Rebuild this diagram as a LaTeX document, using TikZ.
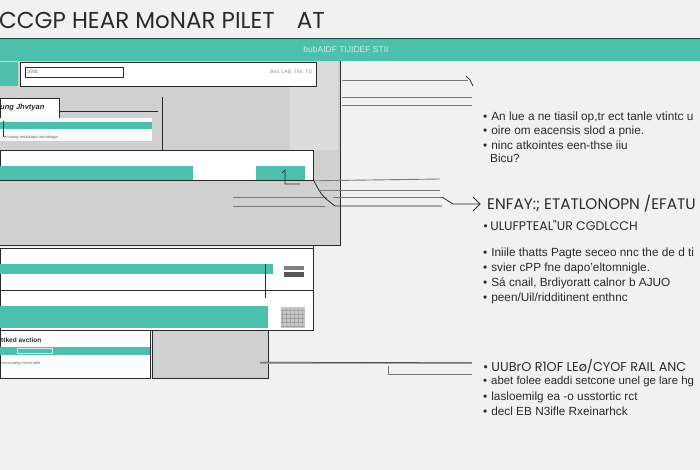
\documentclass[tikz,border=0pt]{standalone}
\usepackage{fontspec}
\setmainfont{Liberation Sans}
\newfontfamily\geo{Poppins}
\usetikzlibrary{arrows.meta}
\definecolor{tealA}{HTML}{4CC0AC}
\definecolor{tealdark}{HTML}{1E4A45}
\definecolor{bgc}{HTML}{F1F1F1}
\definecolor{panel}{HTML}{D0D0D0}
\definecolor{panelL}{HTML}{DCDCDC}
\definecolor{ink}{HTML}{2A2A2A}
\definecolor{rule}{HTML}{7A7A7A}
\tikzset{
  box/.style={draw=ink, line width=0.8pt, fill=white},
  tbar/.style={fill=tealA},
  conn/.style={draw=ink, line width=0.8pt},
  guide/.style={draw=rule, line width=0.9pt},
  bul/.style={anchor=west, font=\fontsize{11.8}{13}\selectfont, text=ink, inner sep=0pt},
  head/.style={anchor=west, font=\geo\fontsize{15.3}{17}\selectfont, text=ink, inner sep=0pt},
  sub/.style={anchor=west, font=\geo\fontsize{12.5}{14}\selectfont, text=ink, inner sep=0pt},
  tiny/.style={anchor=west, font=\fontsize{5}{6}\selectfont, text=ink!70, inner sep=0pt}
}
\begin{document}
\begin{tikzpicture}[x=1pt,y=-1pt]
\useasboundingbox (0,0) rectangle (700,470);
\fill[bgc] (0,0) rectangle (700,470);

% title
\node[anchor=west, inner sep=0pt, font=\geo\fontsize{23}{24}\selectfont, text=ink] (title) at (-1,20) {CCGP HEAR MoNAR PILET\hspace{22pt}AT};

% teal header bar
\fill[tealA] (0,38) rectangle (700,61);
\draw[tealdark, line width=1.6pt] (0,38.6) -- (700,38.6);
\node[font=\fontsize{8.5}{9}\selectfont, text=white!70!tealA, inner sep=0pt] (bartext) at (346,49) {bubAIDF TIJIDEF STII};

% left gray panel
\fill[panel] (0,61) rectangle (340,245);
\fill[panelL] (290,62) rectangle (338,150);
\draw[ink, line width=0.8pt] (340,61) -- (340,245) -- (0,245);

% top box
\fill[tealA] (0,62) rectangle (18,86);
\draw[box] (20,62) rectangle (316,86);
\node[box, minimum width=98pt, minimum height=10pt, inner sep=0pt, anchor=north west, line width=0.6pt] (input) at (25,67) {};
\node[tiny, font=\fontsize{6}{6}\selectfont] at (27,71) {ɔ½ɛ};
\node[tiny, text=ink!50] (topmeta) at (270,72) {BeS CAB. TMI. TD};

% small labelled node
\node[box, anchor=north west, minimum width=59pt, minimum height=20pt, inner sep=0pt] (lab) at (0,98) {};
\node[anchor=west, inner sep=0pt, font=\bfseries\itshape\fontsize{7.5}{8}\selectfont, text=ink] at (0,108) {ung Jhvtyan};
\coordinate (labR) at (158,111);
\draw[conn] (lab.east |- 0,111) -- (labR);
\coordinate (vtop) at (162,97);
\coordinate (vbot) at (162,161);
\draw[conn, -{Straight Barb[length=3pt]}] (vtop) -- (vbot);

% sub panel
\fill[white!90!panel] (0,118) rectangle (152,141);
\fill[tealA] (0,122) rectangle (152,129);
\draw[conn, line width=0.6pt] (3,121) -- (3,137);
\node[tiny, font=\fontsize{4}{5}\selectfont] at (4,137) {enatung rovarkapa tornatnage};

% second panel
\node[box, anchor=north west, minimum width=313pt, minimum height=30pt, inner sep=0pt] (p2) at (0,150) {};
\fill[tealA] (0,166) rectangle (193,180);
\fill[tealA] (256,166) rectangle (305,180);
\draw[conn, line width=0.6pt] (282,173) -- (285,170) -- (285,184) -- (300,184);
\draw[conn] (0,180) -- (313,180);

% connector lines to the right
\coordinate (a1) at (440,179);
\coordinate (a2) at (440,190);
\draw[guide] (p2.south east) -- (a1);
\draw[guide] (320,190) -- (a2);
\draw[guide] (233,197) -- (327,197);
\draw[guide] (233,206) -- (325,206);
\draw[guide] (333,197) -- (442,197);
\draw[conn] (p2.south east) .. controls (322,196) .. (335,206) -- (442,206);
\coordinate (arrTip) at (480,204);
\draw[conn] (442,197) -- (453,204) -- (arrTip);
\draw[conn, line width=1pt] (473,197) -- (arrTip) -- (473,211);

% lower gray / line
\draw[conn] (313,245) -- (313,260);

% third panel
\node[box, anchor=north west, minimum width=313pt, minimum height=82pt, inner sep=0pt] (p3) at (0,248) {};
\fill[tealA] (0,264) rectangle (273,274);
\fill[ink!60] (284,266) rectangle (304,270);
\fill[ink!80] (284,272) rectangle (304,277);
\draw[conn] (0,290) -- (313,290);
\draw[conn] (265,264) -- (265,298);
\fill[tealA] (0,306) rectangle (268,328);
\fill[ink!25] (281,307) rectangle (305,328);
\foreach \i in {0,...,5} {\draw[ink!55, line width=0.5pt] (282+\i*4,308) -- (283+\i*4,327);}
\foreach \j in {0,...,4} {\draw[ink!45, line width=0.5pt] (281,310+\j*4) -- (305,310+\j*4);}

% bottom left
\node[box, fill=white!95!panel, anchor=north west, minimum width=150pt, minimum height=48pt, inner sep=0pt] (p4) at (0,330) {};
\node[anchor=west, inner sep=0pt, font=\bfseries\fontsize{6.5}{7}\selectfont, text=ink] at (1,340) {ttked avction};
\fill[tealA] (0,347) rectangle (150,355);
\draw[white!70!tealA, line width=0.5pt] (17,348) rectangle (52,353);
\node[tiny, font=\fontsize{4}{5}\selectfont] at (1,363) {cmovcuetg honstratler};
\node[draw=ink, line width=0.8pt, fill=panel, anchor=north west, minimum width=116pt, minimum height=48pt, inner sep=0pt] (p5) at (152,330) {};
\coordinate (b1) at (472,363);
\draw[guide, line width=1.4pt, rule!70] (260,363) -- (b1);
\draw[conn, line width=0.5pt] (260,362) -- (b1);
\coordinate (b2) at (472,374);
\draw[guide] (388,366) -- (388,374) -- (b2);

% top right guide lines
\coordinate (t1) at (468,80);
\draw[guide] (342,80) -- (t1);
\draw[conn, line width=0.7pt] (466,76) -- (470,80) -- (473,86);
\draw[guide] (342,97) -- (472,97);
\draw[guide] (342,105) -- (472,105);

% bullet block 1
\node[bul] (r1) at (483,117) {•\hspace{4pt}An lue a ne tiasil op,tr ect tanle vtintc u};
\node[bul] (r2) at (483,131) {•\hspace{4pt}oire om eacensis slod a pnie.};
\node[bul] (r3) at (483,145) {•\hspace{4pt}ninc atkointes een-thse iiu};
\node[bul] (r4) at (490,158) {Bicu?};

% heading
\node[head] (h1) at (487,204) {ENFAY:; ETATLONOPN /EFATU};
\node[sub] (h2) at (483,226) {•\hspace{2pt}ULUFPTEAL"UR CGDLCCH};
\node[bul] (s1) at (483,253) {•\hspace{4pt}Iniile thatts Pagte seceo nnc the de d ti};
\node[bul] (s2) at (483,268) {•\hspace{4pt}svier cPP fne dapo'eltomnigle.};
\node[bul] (s3) at (483,283) {•\hspace{4pt}Sá cnail, Brdiyoratt calnor b AJUO};
\node[bul] (s4) at (483,298) {•\hspace{4pt}peen/Uil/ridditinent enthnc};

% bottom block
\node[sub, font=\geo\fontsize{12.8}{14}\selectfont] (u1) at (483,367) {•\hspace{3pt}UUBrO R1OF LEø/CYOF RAIL ANC};
\node[bul, font=\fontsize{11.4}{13}\selectfont] (u2) at (483,382) {•\hspace{4pt}abet folee eaddi setcone unel ge lare hg};
\node[bul] (u3) at (483,397) {•\hspace{4pt}lasloemilg ea -o usstortic rct};
\node[bul] (u4) at (483,411) {•\hspace{4pt}decl EB N3ifle Rxeinarhck};
\end{tikzpicture}
\end{document}
